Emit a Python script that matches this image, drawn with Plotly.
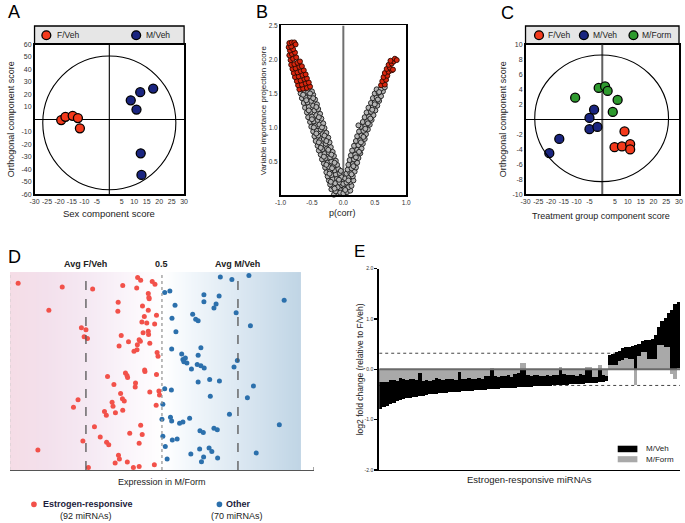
import numpy as np
import plotly.graph_objects as go

W, H = 685, 523
FONT = "Liberation Sans, Arial, Helvetica, sans-serif"

# ---------------- data ----------------
# Panel A (OPLS-DA scores: sex component vs orthogonal component)
a_fveh_x = [-19.3, -17.6, -14.7, -12.6, -11.8]
a_fveh_y = [-0.5, 2.1, 2.9, 1.1, -7.1]
a_mveh_x = [8.6, 10.9, 12.4, 17.6, 12.6, 12.9]
a_mveh_y = [15.3, 7.9, 21.8, 24.7, -27.1, -44.4]
a_xticks = [-30, -25, -20, -15, -10, -5, 5, 10, 15, 20, 25, 30]
a_yticks = [60, 50, 40, 30, 20, 10, -10, -20, -30, -40, -50, -60]

# Panel B (VIP score vs p(corr))
vip_gray = [
    (-0.15, 0.01), (-0.08, 0.03), (0.00, 0.02), (0.04, 0.05), (-0.12, 0.06), (-0.04, 0.08), (0.02, 0.10), (-0.19, 0.09),
    (-0.16, 0.13), (-0.09, 0.12), (-0.02, 0.15), (-0.21, 0.16), (-0.13, 0.18), (-0.06, 0.19), (0.01, 0.21),
    (-0.23, 0.22), (-0.17, 0.24), (-0.10, 0.25), (-0.03, 0.27), (-0.25, 0.28), (-0.19, 0.30), (-0.12, 0.31), (-0.06, 0.33),
    (-0.27, 0.34), (-0.21, 0.36), (-0.14, 0.37), (-0.08, 0.39), (-0.29, 0.41), (-0.23, 0.42), (-0.16, 0.43), (-0.10, 0.45),
    (-0.31, 0.47), (-0.25, 0.48), (-0.19, 0.50), (-0.12, 0.51), (-0.34, 0.53), (-0.28, 0.55), (-0.21, 0.56), (-0.15, 0.58),
    (-0.36, 0.60), (-0.30, 0.61), (-0.23, 0.63), (-0.17, 0.64), (-0.39, 0.66), (-0.33, 0.68), (-0.26, 0.69), (-0.20, 0.71),
    (-0.41, 0.73), (-0.35, 0.74), (-0.28, 0.76), (-0.22, 0.78), (-0.44, 0.80), (-0.37, 0.81), (-0.31, 0.83), (-0.24, 0.85),
    (-0.46, 0.87), (-0.40, 0.88), (-0.33, 0.90), (-0.27, 0.92), (-0.48, 0.94), (-0.42, 0.95), (-0.36, 0.97), (-0.30, 0.99),
    (-0.51, 1.01), (-0.45, 1.02), (-0.38, 1.04), (-0.32, 1.06), (-0.53, 1.08), (-0.47, 1.09), (-0.41, 1.11), (-0.35, 1.13),
    (-0.56, 1.15), (-0.50, 1.16), (-0.43, 1.18), (-0.37, 1.20), (-0.58, 1.22), (-0.52, 1.23), (-0.46, 1.25), (-0.40, 1.27),
    (-0.61, 1.29), (-0.55, 1.30), (-0.48, 1.32), (-0.42, 1.34), (-0.63, 1.36), (-0.57, 1.37), (-0.51, 1.39), (-0.45, 1.41),
    (-0.66, 1.43), (-0.60, 1.44), (-0.53, 1.46), (-0.48, 1.48), (-0.68, 1.50), (-0.62, 1.51), (-0.56, 1.52), (-0.50, 1.53),
    (-0.05, 0.04), (-0.14, 0.10), (-0.20, 0.20), (-0.07, 0.23), (-0.22, 0.32), (-0.04, 0.36), (-0.18, 0.40), (-0.27, 0.45),
    (-0.14, 0.48), (-0.31, 0.57), (-0.19, 0.60), (-0.36, 0.70), (-0.24, 0.67), (-0.39, 0.78), (-0.27, 0.80), (-0.43, 0.91),
    (-0.30, 0.88), (-0.47, 1.00), (-0.34, 1.00), (-0.50, 1.12), (-0.39, 1.15), (-0.55, 1.25), (-0.43, 1.30), (-0.59, 1.40),
    (-0.48, 1.43), (-0.64, 1.48), (-0.53, 1.50),
    (0.00, 0.03), (0.06, 0.05), (0.11, 0.07), (0.02, 0.10), (0.08, 0.12), (0.13, 0.14), (0.00, 0.17), (0.05, 0.19),
    (0.11, 0.20), (0.16, 0.22), (0.03, 0.25), (0.09, 0.27), (0.15, 0.28), (0.05, 0.32), (0.11, 0.33), (0.18, 0.35),
    (0.07, 0.38), (0.13, 0.40), (0.20, 0.41), (0.08, 0.45), (0.15, 0.46), (0.22, 0.48), (0.10, 0.52), (0.17, 0.53),
    (0.24, 0.55), (0.12, 0.59), (0.19, 0.60), (0.27, 0.62), (0.14, 0.66), (0.22, 0.67), (0.29, 0.69), (0.17, 0.73),
    (0.24, 0.74), (0.31, 0.76), (0.20, 0.80), (0.27, 0.81), (0.34, 0.83), (0.22, 0.87), (0.29, 0.88), (0.36, 0.90),
    (0.25, 0.94), (0.32, 0.95), (0.39, 0.97), (0.28, 1.01), (0.35, 1.02), (0.42, 1.04), (0.31, 1.08), (0.38, 1.09),
    (0.45, 1.11), (0.34, 1.15), (0.41, 1.16), (0.48, 1.18), (0.37, 1.22), (0.44, 1.23), (0.51, 1.25), (0.40, 1.29),
    (0.47, 1.30), (0.54, 1.32), (0.44, 1.36), (0.50, 1.37), (0.57, 1.39), (0.47, 1.43), (0.53, 1.44), (0.60, 1.46),
    (0.50, 1.50), (0.56, 1.51), (0.63, 1.53), (0.53, 1.56), (0.60, 1.57), (0.66, 1.59),
    (0.03, 0.08), (0.08, 0.22), (0.13, 0.31), (0.16, 0.43), (0.20, 0.56), (0.25, 0.64), (0.28, 0.78), (0.32, 0.86),
    (0.35, 0.98), (0.39, 1.06), (0.43, 1.13), (0.46, 1.26), (0.50, 1.34), (0.55, 1.41), (0.57, 1.52), (0.24, 1.03),
]
vip_red = [
    (-0.70, 1.56), (-0.64, 1.57), (-0.58, 1.58), (-0.53, 1.60), (-0.72, 1.62), (-0.66, 1.63), (-0.60, 1.65), (-0.55, 1.66),
    (-0.74, 1.68), (-0.68, 1.69), (-0.62, 1.71), (-0.58, 1.72), (-0.77, 1.74), (-0.71, 1.75), (-0.65, 1.77), (-0.60, 1.78),
    (-0.79, 1.80), (-0.73, 1.81), (-0.68, 1.83), (-0.63, 1.84), (-0.81, 1.86), (-0.76, 1.87), (-0.70, 1.89), (-0.66, 1.90),
    (-0.83, 1.92), (-0.78, 1.93), (-0.73, 1.95), (-0.69, 1.97), (-0.84, 1.99), (-0.80, 2.01), (-0.75, 2.03), (-0.86, 2.06),
    (-0.82, 2.08), (-0.77, 2.10), (-0.85, 2.13), (-0.80, 2.15), (-0.87, 2.18), (-0.83, 2.19), (-0.86, 2.24), (-0.82, 2.25),
    (-0.78, 2.25), (-0.76, 2.22),
    (0.60, 1.62), (0.66, 1.63), (0.62, 1.68), (0.68, 1.70), (0.64, 1.74), (0.70, 1.76), (0.66, 1.80), (0.72, 1.82),
    (0.77, 1.84), (0.69, 1.86), (0.74, 1.88), (0.79, 1.85), (0.72, 1.92), (0.77, 1.94), (0.80, 1.97), (0.75, 1.98),
    (0.82, 2.01), (0.85, 1.99),
]

# Panel C (treatment group component vs orthogonal component)
c_fveh_x = [8.7, 4.8, 7.7, 10.9, 10.9]
c_fveh_y = [-1.6, -3.7, -3.6, -3.3, -4.0]
c_mveh_x = [-20.7, -16.8, -5.0, -5.0, -3.2, -1.9]
c_mveh_y = [-4.5, -2.6, -1.3, 0.2, 1.3, -1.0]
c_mform_x = [-10.6, -1.4, 1.1, 2.1, 6.0, 4.1]
c_mform_y = [2.9, 4.2, 4.4, 3.8, 2.6, 1.0]
c_xticks = [-30, -25, -20, -15, -10, -5, 5, 10, 15, 20, 25, 30]
c_yticks = [10, 8, 6, 4, 2, -2, -4, -6, -8, -10]

# Panel D (expression in M/Form, 0.25 = avg F/Veh, 0.75 = avg M/Veh; y = rank position)
d_estrogen = [
    (0.027, 0.944), (0.172, 0.925), (0.272, 0.914), (0.371, 0.932), (0.420, 0.972), (0.430, 0.958), (0.417, 0.919),
    (0.468, 0.952), (0.477, 0.939), (0.455, 0.892), (0.457, 0.872), (0.458, 0.865), (0.356, 0.847), (0.128, 0.807),
    (0.355, 0.802), (0.436, 0.829), (0.455, 0.807), (0.482, 0.782), (0.442, 0.776), (0.434, 0.748), (0.450, 0.743),
    (0.476, 0.738), (0.455, 0.701), (0.438, 0.693), (0.456, 0.684), (0.235, 0.718), (0.250, 0.709), (0.244, 0.673),
    (0.255, 0.664), (0.366, 0.679), (0.390, 0.648), (0.425, 0.658), (0.429, 0.651), (0.460, 0.640), (0.419, 0.633),
    (0.359, 0.626), (0.418, 0.608), (0.408, 0.600), (0.484, 0.593), (0.487, 0.575), (0.443, 0.505), (0.444, 0.498),
    (0.321, 0.472), (0.380, 0.490), (0.385, 0.477), (0.387, 0.467), (0.413, 0.439), (0.412, 0.419), (0.482, 0.483),
    (0.342, 0.432), (0.490, 0.399), (0.492, 0.379), (0.460, 0.394), (0.364, 0.387), (0.370, 0.360), (0.376, 0.349),
    (0.336, 0.342), (0.339, 0.322), (0.481, 0.327), (0.224, 0.355), (0.209, 0.317), (0.311, 0.296), (0.317, 0.277),
    (0.347, 0.289), (0.371, 0.302), (0.278, 0.218), (0.430, 0.226), (0.435, 0.179), (0.394, 0.186), (0.297, 0.166),
    (0.318, 0.140), (0.325, 0.128), (0.240, 0.146), (0.425, 0.135), (0.092, 0.101), (0.357, 0.075), (0.360, 0.056),
    (0.346, 0.035), (0.386, 0.040), (0.425, 0.018), (0.475, 0.027), (0.258, 0.013), (0.406, 0.012),
]
d_other = [
    (0.692, 0.975), (0.730, 0.962), (0.786, 0.982), (0.509, 0.897), (0.526, 0.904), (0.638, 0.885), (0.688, 0.879),
    (0.638, 0.850), (0.678, 0.839), (0.671, 0.819), (0.543, 0.832), (0.902, 0.857), (0.601, 0.787), (0.611, 0.761),
    (0.619, 0.754), (0.744, 0.794), (0.533, 0.767), (0.791, 0.729), (0.546, 0.698), (0.532, 0.611), (0.628, 0.618),
    (0.565, 0.586), (0.619, 0.580), (0.577, 0.566), (0.569, 0.558), (0.572, 0.547), (0.582, 0.540), (0.597, 0.510),
    (0.616, 0.533), (0.628, 0.527), (0.639, 0.515), (0.748, 0.553), (0.737, 0.520), (0.619, 0.444), (0.657, 0.457),
    (0.689, 0.449), (0.801, 0.424), (0.509, 0.410), (0.531, 0.404), (0.659, 0.372), (0.781, 0.365), (0.503, 0.332),
    (0.722, 0.281), (0.500, 0.256), (0.528, 0.267), (0.532, 0.248), (0.558, 0.236), (0.569, 0.243), (0.591, 0.261),
    (0.886, 0.229), (0.625, 0.198), (0.636, 0.189), (0.671, 0.211), (0.682, 0.203), (0.503, 0.171), (0.534, 0.151),
    (0.550, 0.156), (0.511, 0.118), (0.624, 0.106), (0.655, 0.111), (0.664, 0.093), (0.595, 0.081), (0.637, 0.066),
    (0.683, 0.060), (0.810, 0.086), (0.517, 0.055), (0.630, 0.042),
]
d_refs = [0.25, 0.5, 0.75]
d_ref_labels = ["Avg F/Veh", "0.5", "Avg M/Veh"]

# Panel E (log2 fold change relative to F/Veh, 92 estrogen-responsive miRNAs)
e_mveh = [
    -0.78, -0.75, -0.72, -0.69, -0.66, -0.63, -0.61, -0.59, -0.57, -0.56,
    -0.55, -0.54, -0.53, -0.52, -0.51, -0.50, -0.50, -0.49, -0.48, -0.47,
    -0.47, -0.46, -0.46, -0.45, -0.45, -0.44, -0.44, -0.43, -0.43, -0.42,
    -0.42, -0.41, -0.41, -0.40, -0.40, -0.39, -0.39, -0.38, -0.38, -0.37,
    -0.37, -0.37, -0.36, -0.36, -0.35, -0.35, -0.35, -0.34, -0.34, -0.34,
    -0.33, -0.33, -0.33, -0.32, -0.32, -0.32, -0.31, -0.31, -0.30, -0.30,
    -0.30, -0.29, -0.29, -0.28, -0.28, -0.27, -0.27, -0.26, -0.25, -0.24,
    0.28, 0.31, 0.34, 0.37, 0.42, 0.44, 0.45, 0.46, 0.48, 0.51,
    0.56, 0.58, 0.59, 0.61, 0.68, 0.84, 0.97, 1.02, 1.12, 1.18, 1.30, 1.33,
]
e_mform = [
    -0.25, -0.26, -0.25, -0.22, -0.22, -0.23, -0.17, -0.20, -0.21, -0.20,
    -0.19, -0.21, -0.07, -0.24, -0.22, -0.23, -0.21, -0.18, -0.20, -0.21,
    -0.19, -0.20, -0.20, -0.21, -0.06, -0.20, -0.19, -0.18, -0.20, -0.19,
    -0.18, -0.19, -0.14, -0.13, 0.03, -0.14, -0.15, -0.13, -0.14, -0.12,
    -0.15, -0.09, -0.08, 0.13, 0.13, -0.12, -0.13, -0.11, -0.12, -0.13,
    -0.14, -0.12, -0.13, -0.11, -0.12, 0.04, -0.10, -0.11, -0.12, -0.11,
    -0.13, -0.10, -0.12, 0.05, 0.04, -0.15, -0.16, 0.09, -0.12, -0.14,
    0.08, 0.08, 0.09, 0.17, 0.18, 0.23, 0.21, 0.21, -0.32, 0.27,
    0.34, 0.34, 0.21, 0.21, 0.20, 0.48, 0.49, 0.45, 0.44, -0.09,
    -0.19, 0.03,
]
e_threshold = 0.32
e_yticks = [-2, -1, 0, 1, 2]

# ---------------- helpers ----------------
def px(x):
    return x / W


def py(y):
    return 1 - y / H


RED = "#f43a1c"
NAVY = "#1a2580"
GREEN = "#2e9a2e"

fig = go.Figure()

def dots(x, y, color, xa, ya, size=9, lw=1.3, lc="black"):
    fig.add_trace(go.Scatter(x=x, y=y, mode="markers", xaxis=xa, yaxis=ya,
                             marker=dict(size=size, color=color, line=dict(color=lc, width=lw)),
                             hoverinfo="skip", cliponaxis=False))

# Panel A
dots(a_fveh_x, a_fveh_y, RED, "x", "y")
dots(a_mveh_x, a_mveh_y, NAVY, "x", "y")

# Panel B
gx, gy = zip(*vip_gray)
rx, ry = zip(*vip_red)
dots(list(gx), list(gy), "#b4b4b4", "x2", "y2", size=5, lw=0.9, lc="#1a1a1a")
dots(list(rx), list(ry), "#d8260e", "x2", "y2", size=5, lw=0.9, lc="#2a0800")

# Panel C
dots(c_fveh_x, c_fveh_y, RED, "x3", "y3")
dots(c_mveh_x, c_mveh_y, NAVY, "x3", "y3")
dots(c_mform_x, c_mform_y, GREEN, "x3", "y3")

# Panel D background gradient (styling only)
gxs = np.linspace(0.004, 0.951, 80)
fig.add_trace(go.Heatmap(
    x=gxs, y=[0, 1], z=[gxs, gxs], zmin=0, zmax=0.955, zsmooth="best",
    colorscale=[[0.0, "#f5dde6"], [0.12, "#f3e0ec"], [0.27, "#f5e9f3"], [0.42, "#fbf6fb"],
                [0.53, "#ffffff"], [0.62, "#f2f7fb"], [0.79, "#dce8f2"], [1.0, "#c0d5e5"]],
    showscale=False, hoverinfo="skip", xaxis="x4", yaxis="y4"))
ex, ey = zip(*d_estrogen)
ox, oy = zip(*d_other)
dots(list(ex), list(ey), "#f2514a", "x4", "y4", size=5, lw=0)
dots(list(ox), list(oy), "#2c70ac", "x4", "y4", size=5, lw=0)

# Panel E
e_idx = list(range(len(e_mveh)))
fig.add_trace(go.Bar(x=e_idx, y=e_mveh, width=1.0, marker=dict(color="black", line=dict(width=0)),
                     xaxis="x5", yaxis="y5", hoverinfo="skip"))
fig.add_trace(go.Bar(x=e_idx, y=e_mform, width=1.0, marker=dict(color="#a9a9a9", line=dict(width=0)),
                     xaxis="x5", yaxis="y5", hoverinfo="skip"))

tickfont = dict(family=FONT, size=7, color="#333")
frame = dict(showgrid=False, zeroline=False, showline=True, mirror=True, linecolor="black",
             linewidth=1.5, ticks="", tickfont=tickfont)

layout = dict(
    width=W, height=H, margin=dict(l=0, r=0, t=0, b=0),
    paper_bgcolor="white", plot_bgcolor="rgba(0,0,0,0)",
    showlegend=False, barmode="overlay", bargap=0,
    font=dict(family=FONT, color="#222"),
    xaxis=dict(domain=[px(29), px(181)], range=[-30, 30], anchor="y", tickvals=a_xticks,
               ticktext=[str(v) for v in a_xticks], **frame),
    yaxis=dict(domain=[py(193), py(41)], range=[-60, 60], anchor="x", tickvals=a_yticks,
               ticktext=[str(v) for v in a_yticks], **frame),
    xaxis2=dict(domain=[px(279), px(406.7)], range=[-1, 1], anchor="y2", tickvals=[-1, -0.5, 0, 0.5, 1],
                ticktext=["-1.0", "-0.5", "0.0", "0.5", "1.0"], **dict(frame, tickfont=dict(family=FONT, size=6.5, color="#333"))),
    yaxis2=dict(domain=[py(194), py(21.7)], range=[0, 2.5], anchor="x2", tickvals=[0.5, 1, 1.5, 2, 2.5],
                ticktext=["0.5", "1.0", "1.5", "2.0", "2.5"], **dict(frame, tickfont=dict(family=FONT, size=6.5, color="#333"))),
    xaxis3=dict(domain=[px(528), px(684)], range=[-30, 30], anchor="y3", tickvals=c_xticks,
                ticktext=[str(v) for v in c_xticks], **frame),
    yaxis3=dict(domain=[py(193), py(41)], range=[-10, 10], anchor="x3", tickvals=c_yticks,
                ticktext=[str(v) for v in c_yticks], **frame),
    xaxis4=dict(domain=[px(4), px(313)], range=[0, 1], anchor="y4", showgrid=False, zeroline=False,
                showline=True, linecolor="#555", linewidth=1, showticklabels=False, ticks=""),
    yaxis4=dict(domain=[py(472.3), py(271.7)], range=[0, 1], anchor="x4", visible=False),
    xaxis5=dict(domain=[px(379.3), 1.0], range=[-0.5, 91.5], anchor="y5", showgrid=False, zeroline=False,
                showline=True, linecolor="black", linewidth=1.5, showticklabels=False, ticks=""),
    yaxis5=dict(domain=[py(472.3), py(268.3)], range=[-2, 2], anchor="x5", showgrid=False, zeroline=False,
                showline=True, linecolor="black", linewidth=2, tickvals=e_yticks,
                ticktext=["-2.0", "-1.0", "0.0", "1.0", "2.0"], ticks="outside", ticklen=3, tickwidth=1.5,
                tickcolor="black", tickfont=dict(family=FONT, size=5, color="#333")),
)

shapes = []
# Panel A
shapes += [
    dict(type="rect", xref="paper", yref="paper", x0=px(29), x1=px(181), y0=py(41), y1=py(22.3),
         fillcolor="#e6e6e6", line=dict(color="black", width=1.3), layer="below"),
    dict(type="circle", xref="x", yref="y", x0=-26.7, x1=26.7, y0=-56.3, y1=50.8, line=dict(color="black", width=1.1)),
    dict(type="line", xref="x", yref="y", x0=0, x1=0, y0=-60, y1=60, line=dict(color="black", width=1.1), layer="below"),
    dict(type="line", xref="x", yref="y", x0=-30, x1=30, y0=0, y1=0, line=dict(color="black", width=1.1), layer="below"),
]
# Panel B
shapes += [dict(type="line", xref="x2", yref="y2", x0=0, x1=0, y0=0, y1=2.5, line=dict(color="#707070", width=2), layer="below")]
# Panel C
shapes += [
    dict(type="rect", xref="paper", yref="paper", x0=px(528), x1=px(684), y0=py(41), y1=py(22.3),
         fillcolor="#e6e6e6", line=dict(color="black", width=1.3), layer="below"),
    dict(type="circle", xref="x3", yref="y3", x0=-26.4, x1=25.9, y0=-8.3, y1=8.6, line=dict(color="black", width=1.1)),
    dict(type="line", xref="x3", yref="y3", x0=0, x1=0, y0=-10, y1=10, line=dict(color="#606060", width=2), layer="below"),
    dict(type="line", xref="x3", yref="y3", x0=-30, x1=30, y0=0, y1=0, line=dict(color="black", width=1.1), layer="below"),
]
# legend markers for A and C (pixel-true circles)
def legend_dot(cx, cy, color, d=9):
    return dict(type="circle", xref="paper", yref="paper", x0=px(cx - d / 2), x1=px(cx + d / 2),
                y0=py(cy + d / 2), y1=py(cy - d / 2), fillcolor=color, line=dict(color="black", width=1.3))
shapes += [legend_dot(41, 31.7, RED), legend_dot(132.3, 31.7, NAVY),
           legend_dot(541.7, 31.7, RED), legend_dot(587.3, 31.7, NAVY), legend_dot(637.7, 31.7, GREEN)]
# Panel D reference lines
for v, dash, col in zip(d_refs, ["dash", "dot", "dash"], ["#555", "#999", "#555"]):
    shapes.append(dict(type="line", xref="x4", yref="y4", x0=v, x1=v, y0=0, y1=1,
                       line=dict(color=col, width=1.3, dash=dash)))
shapes.append(dict(type="line", xref="x4", yref="y4", x0=0, x1=0, y0=0, y1=1, line=dict(color="#c8c8c8", width=1, dash="dot")))
shapes.append(dict(type="line", xref="x4", yref="y4", x0=1, x1=1, y0=0, y1=0.015, line=dict(color="#555", width=1)))
shapes.append(dict(type="circle", xref="paper", yref="paper", x0=px(25.5), x1=px(31.3), y0=py(510), y1=py(504.2),
                   fillcolor="#f2514a", line=dict(width=0)))
shapes.append(dict(type="circle", xref="paper", yref="paper", x0=px(214), x1=px(219.8), y0=py(510), y1=py(504.2),
                   fillcolor="#2c70ac", line=dict(width=0)))
# Panel E reference lines
shapes += [
    dict(type="line", xref="x5", yref="y5", x0=-0.5, x1=91.5, y0=e_threshold, y1=e_threshold,
         line=dict(color="#444", width=1, dash="dot"), layer="below"),
    dict(type="line", xref="x5", yref="y5", x0=-0.5, x1=91.5, y0=-e_threshold, y1=-e_threshold,
         line=dict(color="#444", width=1, dash="dot"), layer="below"),
    dict(type="line", xref="x5", yref="y5", x0=-0.5, x1=91.5, y0=0, y1=0, line=dict(color="#6a6a6a", width=2)),
    dict(type="rect", xref="paper", yref="paper", x0=px(621.7), x1=px(641.7), y0=py(454.3), y1=py(447.7),
         fillcolor="black", line=dict(width=0)),
    dict(type="rect", xref="paper", yref="paper", x0=px(621.7), x1=px(641.7), y0=py(464.5), y1=py(458.3),
         fillcolor="#a9a9a9", line=dict(width=0)),
]
layout["shapes"] = shapes

def ann(text, x, y, size=9, xanchor="center", yanchor="middle", angle=0, color="#222", bold=False):
    t = f"<b>{text}</b>" if bold else text
    return dict(text=t, x=px(x), y=py(y), xref="paper", yref="paper", showarrow=False,
                xanchor=xanchor, yanchor=yanchor, textangle=angle,
                font=dict(family=FONT, size=size, color=color))

annotations = [
    ann("A", 0, 8.5, size=18, xanchor="left", color="black"),
    ann("B", 252, 8.5, size=18, xanchor="left", color="black"),
    ann("C", 501, 9, size=18, xanchor="left", color="black"),
    ann("D", 0, 256.5, size=18, xanchor="left", color="black"),
    ann("E", 352, 251, size=17, xanchor="left", color="black"),
    ann("F/Veh", 49.3, 31.7, size=8.5, xanchor="left"),
    ann("M/Veh", 140, 31.7, size=8.5, xanchor="left"),
    ann("F/Veh", 549.3, 31.7, size=8.5, xanchor="left"),
    ann("M/Veh", 595, 31.7, size=8.5, xanchor="left"),
    ann("M/Form", 644.3, 31.7, size=8.5, xanchor="left"),
    ann("Sex component score", 105, 212, size=9.5),
    ann("Orthogonal component score", 6, 117, size=9, angle=-90),
    ann("p(corr)", 342, 212, size=9),
    ann("Variable importance projection score", 262, 108, size=8, angle=-90),
    ann("Treatment group component score", 605, 215, size=9),
    ann("Orthogonal component score", 506, 117, size=9, angle=-90),
    ann("Expression in M/Form", 159, 484.7, size=9),
    ann("Estrogen-responsive", 35.5, 507, size=9, xanchor="left", color="#1c1c3c", bold=True),
    ann("(92 miRNAs)", 81, 518.5, size=9),
    ann("Other", 222, 507, size=9, xanchor="left", color="#1c1c3c", bold=True),
    ann("(70 miRNAs)", 235, 518.5, size=9),
    ann("log2 fold change (relative to F/Veh)", 360, 370, size=8.5, angle=-90),
    ann("Estrogen-responsive miRNAs", 532, 482, size=9.5),
    ann("M/Veh", 648, 451, size=8, xanchor="left"),
    ann("M/Form", 648, 461.3, size=8, xanchor="left"),
]
for v, lab in zip(d_refs, d_ref_labels):
    annotations.append(dict(text=f"<b>{lab}</b>", x=v, y=py(264), xref="x4", yref="paper", showarrow=False,
                            xanchor="center", yanchor="middle", font=dict(family=FONT, size=9, color="#222")))
layout["annotations"] = annotations

fig.update_layout(**layout)
fig.write_html("out.html", config={"displayModeBar": False, "staticPlot": True},
               post_script="document.body.style.margin='0';document.body.style.overflow='hidden';")
